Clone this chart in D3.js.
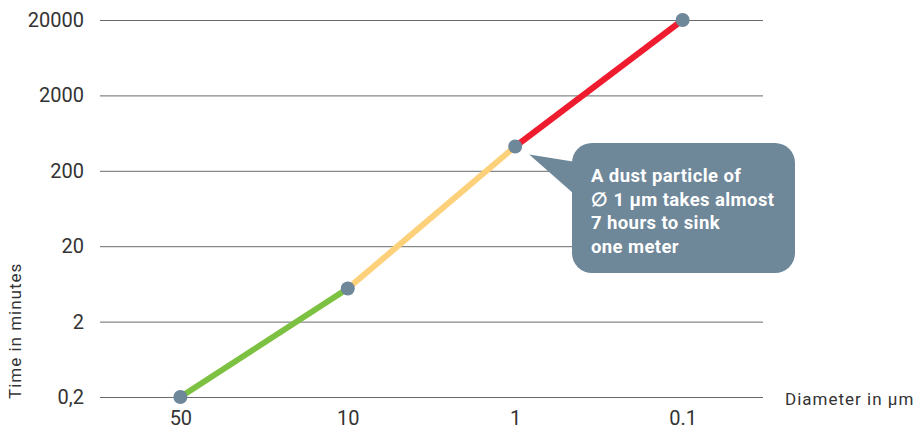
<!DOCTYPE html>
<html>
<head>
<meta charset="utf-8">
<script src="https://cdn.jsdelivr.net/npm/d3@7"></script>
<style>
  body { margin: 0; background: #fff; }
  svg { display: block; font-family: Roboto, "Noto Sans", sans-serif; }
  .num { font-family: "Liberation Sans Narrow", "Roboto", sans-serif; font-size: 20px; }
</style>
</head>
<body>
<svg></svg>
<script>
// Data
const diameters = ["50", "10", "1", "0.1"];
const minutes = [0.2, 5.5, 420, 20000];
const segmentColors = ["#7dc142", "#fdd07a", "#ee1c2e"];
const yTicks = [0.2, 2, 20, 200, 2000, 20000];
const yTickLabels = ["0,2", "2", "20", "200", "2000", "20000"];
const noteLines = ["A dust particle of", "\u2205 1 \u00b5m takes almost", "7 hours to sink", "one meter"];

const width = 918, height = 426;

const svg = d3.select("svg")
    .attr("width", width)
    .attr("height", height);

// Scales
const x = d3.scalePoint()
    .domain(diameters)
    .range([100, 763])
    .padding(0.48);

const y = d3.scaleLog()
    .domain([0.2, 20000])
    .range([397, 20]);

// Gridlines + y labels
const yAxis = d3.axisLeft(y)
    .tickValues(yTicks)
    .tickSize(-663)
    .tickPadding(16)
    .tickFormat((d, i) => yTickLabels[i]);

svg.append("g")
    .attr("transform", "translate(100,0)")
    .call(yAxis)
    .call(g => g.select(".domain").remove())
    .call(g => g.selectAll(".tick line").attr("stroke", "#6a6a6a"))
    .call(g => g.selectAll(".tick text")
        .attr("class", "num")
        .attr("fill", "#333")
        .attr("font-size", null));

// x labels
const xAxis = d3.axisBottom(x).tickSize(0).tickPadding(0);
svg.append("g")
    .attr("transform", "translate(0,397)")
    .call(xAxis)
    .call(g => g.select(".domain").remove())
    .call(g => g.selectAll(".tick text")
        .attr("class", "num")
        .attr("fill", "#333")
        .attr("dy", null)
        .attr("y", 28));

// Axis titles
svg.append("text")
    .attr("transform", "translate(21,399) rotate(-90)")
    .attr("fill", "#333")
    .style("font-size", "17px")
    .style("letter-spacing", "1px")
    .text("Time in minutes");

svg.append("text")
    .attr("x", 785)
    .attr("y", 405)
    .attr("fill", "#333")
    .style("font-size", "17px")
    .style("letter-spacing", "1px")
    .text("Diameter in \u00b5m");

// Line segments, each in its own colour
const points = diameters.map((d, i) => ({d, v: minutes[i]}));
const segments = d3.pairs(points);

svg.append("g")
  .selectAll("line")
  .data(segments)
  .enter()
  .append("line")
    .attr("x1", s => x(s[0].d))
    .attr("y1", s => y(s[0].v))
    .attr("x2", s => x(s[1].d))
    .attr("y2", s => y(s[1].v))
    .attr("stroke", (s, i) => segmentColors[i])
    .attr("stroke-width", 6);

svg.append("g")
  .selectAll("circle")
  .data(points)
  .enter()
  .append("circle")
    .attr("cx", p => x(p.d))
    .attr("cy", p => y(p.v))
    .attr("r", 7)
    .attr("fill", "#6e8799");

// Callout next to the 1 µm point
const px = x("1"), py = y(420);
const note = svg.append("g");
const bx = 572, by = 143, bw = 223, bh = 130;

note.append("path")
    .attr("d", `M${px + 14},${py + 8} L${bx + 10},${by + 20} L${bx + 10},${by + 58} Z`)
    .attr("fill", "#6e8799");

note.append("rect")
    .attr("x", bx)
    .attr("y", by)
    .attr("width", bw)
    .attr("height", bh)
    .attr("rx", 20)
    .attr("fill", "#6e8799");

note.selectAll("text")
  .data(noteLines)
  .enter()
  .append("text")
    .attr("x", bx + 19)
    .attr("y", (d, i) => by + 39 + i * 23.5)
    .attr("fill", "#fff")
    .style("font-size", "18.5px")
    .style("font-weight", "bold")
    .style("letter-spacing", "0.4px")
    .text(d => d);
</script>
</body>
</html>
